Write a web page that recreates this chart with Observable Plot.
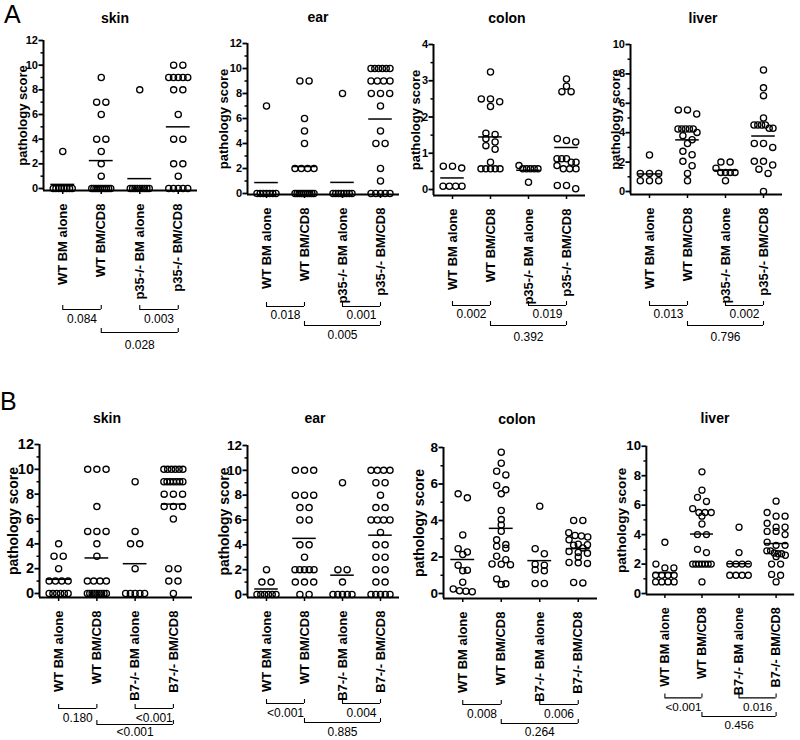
<!DOCTYPE html>
<html><head><meta charset="utf-8">
<script src="https://cdn.jsdelivr.net/npm/d3@7"></script>
<script src="https://cdn.jsdelivr.net/npm/@observablehq/plot@0.6"></script>
<style>
html,body{margin:0;padding:0;background:#fff;overflow:hidden}
#fig{position:relative;width:800px;height:740px;overflow:hidden;font-family:"Liberation Sans",Arial,sans-serif;color:#000}
.panel{position:absolute}
.ttl{position:absolute;font-weight:bold;font-size:14px;transform:translate(-50%,-50%);white-space:nowrap}
.big{position:absolute;font-size:25px;line-height:1}
</style></head><body><div id="fig"></div>
<script>
// ---------- categories ----------
const groupsA = ["WT BM alone", "WT BM/CD8", "p35-/- BM alone", "p35-/- BM/CD8"];
const groupsB = ["WT BM alone", "WT BM/CD8", "B7-/- BM alone", "B7-/- BM/CD8"];
const bracketPairs = [[0, 1], [2, 3], [1, 3]];
const bracketLevels = [0, 0, 1];

// ---------- values (one list per group) ----------
const skinA = [
  [3, 0, 0, 0, 0, 0, 0, 0, 0],
  [9, 7, 7, 6, 4, 4, 3, 2, 1, 0, 0, 0, 0, 0, 0, 0, 0, 0, 0],
  [8, 0, 0, 0, 0, 0, 0, 0, 0, 0],
  [10, 10, 9, 9, 9, 9, 9, 8, 8, 6, 4, 4, 2, 2, 1, 0, 0, 0, 0, 0]
];
const earA = [
  [7, 0, 0, 0, 0, 0, 0, 0],
  [9, 9, 6, 5, 4, 2, 2, 2, 2, 0, 0, 0, 0, 0, 0, 0, 0, 0, 0],
  [8, 0, 0, 0, 0, 0, 0, 0, 0],
  [10, 10, 10, 10, 10, 10, 9, 9, 9, 9, 8, 8, 8, 7, 5, 4, 4, 2, 1, 0, 0, 0, 0, 0]
];
const colonA = [
  [0.64, 0.59, 0.64, 0.09, 0.09, 0.09, 0.09],
  [3.24, 2.5, 2.5, 2.42, 2.29, 1.55, 1.52, 1.4, 1.31, 1.21, 1.11, 0.75, 0.57, 0.57, 0.57, 0.57, 0.57],
  [0.66, 0.57, 0.57, 0.57, 0.57, 0.57, 0.2],
  [3.05, 2.85, 2.7, 2.7, 1.4, 1.35, 1.31, 0.85, 0.85, 0.85, 0.75, 0.75, 0.66, 0.57, 0.57, 0.57, 0.11, 0.11, 0.02]
];
const liverA = [
  [2.48, 1.23, 1.23, 1.23, 0.73, 0.73, 0.73],
  [5.55, 5.55, 5.27, 4.25, 4.25, 4.25, 4.25, 4.25, 4.02, 3.8, 3.52, 3.27, 2.73, 2.5, 2.05, 1.75, 1.23, 0.73],
  [2.0, 2.0, 1.59, 1.3, 1.3, 1.3, 1.3, 0.73],
  [8.27, 7.05, 6.52, 5.0, 4.52, 4.52, 4.52, 4.52, 4.3, 4.3, 3.27, 3.27, 3.0, 2.05, 2.05, 1.8, 1.52, 1.23, 0]
];
const skinB = [
  [4, 3, 3, 2, 1, 1, 1, 1, 0, 0, 0, 0, 0, 0],
  [10, 10, 10, 7, 5, 5, 5, 4, 3, 1, 1, 1, 1, 0, 0, 0, 0, 0, 0, 0, 0, 0],
  [9, 5, 4, 4, 2, 0, 0, 0, 0, 0],
  [10, 10, 10, 10, 10, 10, 9, 9, 9, 9, 9, 9, 9, 8, 8, 8, 7, 7, 7, 6, 2, 2, 1, 1, 0]
];
const earB = [
  [2, 1, 1, 0, 0, 0, 0, 0, 0],
  [10, 10, 10, 8, 8, 8, 7, 7, 6, 6, 4, 4, 3, 2, 2, 2, 2, 2, 1, 1, 1, 0, 0],
  [9, 2, 2, 1, 0, 0, 0, 0, 0],
  [10, 10, 10, 10, 9, 9, 8, 7, 7, 6, 6, 6, 6, 5, 4, 4, 3, 3, 2, 2, 1, 1, 0, 0, 0, 0, 0]
];
const colonB = [
  [5.46, 5.24, 3.21, 2.45, 2.27, 2.14, 1.55, 1.28, 1.25, 0.62, 0.25, 0.15, 0.12, 0.1],
  [7.74, 7.14, 6.7, 6.5, 5.92, 5.68, 5.46, 4.55, 4.05, 3.76, 3.41, 2.94, 2.68, 2.59, 2.48, 2.04, 1.85, 1.62, 1.6, 1.58, 0.8, 0.53, 0.5],
  [4.78, 2.45, 2.18, 1.6, 1.55, 1.3, 1.25, 0.55, 0.55],
  [4.0, 4.0, 3.33, 3.18, 3.15, 3.1, 2.94, 2.7, 2.67, 2.65, 2.5, 2.3, 2.25, 2.2, 2.0, 1.7, 1.68, 1.65, 0.6, 0.58]
];
const liverB = [
  [3.48, 2.0, 1.74, 1.74, 1.24, 1.24, 1.24, 1.24, 0.79, 0.79, 0.79, 0.79],
  [8.26, 7.02, 6.53, 6.25, 5.76, 5.5, 5.5, 5.5, 5.25, 4.72, 4.0, 4.0, 3.0, 2.78, 2.0, 2.0, 2.0, 2.0, 2.0, 2.0, 2.0, 0.79],
  [4.5, 2.78, 2.0, 2.0, 2.0, 2.0, 1.24, 1.24, 1.24, 1.24],
  [6.27, 5.5, 5.25, 5.25, 4.77, 4.5, 4.5, 4.22, 4.22, 4.0, 3.49, 3.27, 3.27, 2.9, 2.9, 2.75, 2.7, 2.7, 2.6, 2.5, 2.0, 2.0, 1.3, 1.24, 0.79]
];

// ---------- p-values ----------
const pSkinA = ["0.084", "0.003", "0.028"];
const pEarA = ["0.018", "0.001", "0.005"];
const pColonA = ["0.002", "0.019", "0.392"];
const pLiverA = ["0.013", "0.002", "0.796"];
const pSkinB = ["0.180", "<0.001", "<0.001"];
const pEarB = ["<0.001", "0.004", "0.885"];
const pColonB = ["0.008", "0.006", "0.264"];
const pLiverB = ["<0.001", "0.016", "0.456"];

// ---------- y tick labels ----------
const ticks12 = [0, 2, 4, 6, 8, 10, 12];
const ticks10 = [0, 2, 4, 6, 8, 10];
const ticks8 = [0, 2, 4, 6, 8];
const ticks4 = [0, 1, 2, 3, 4];

const FONT = '"Liberation Sans", Arial, Helvetica, sans-serif';

// GraphPad-like horizontal spreading of points sharing (nearly) the same value
function spread(options, {gap = 9.2, span = 19, tol = 5} = {}) {
  return Plot.initializer(options, function (data, facets, channels, scales) {
    const X = channels.x.value, Y = channels.y.value;
    const PX = Array.from(X, (v) => scales.x(v));
    const PY = Array.from(Y, (v) => scales.y(v));
    const OX = new Float64Array(PX.length);
    for (const I of facets) {
      for (const idx of d3.group(I, (i) => X[i]).values()) {
        const sorted = Array.from(idx).sort((a, b) => PY[a] - PY[b]);
        const rows = [];
        let cur = [];
        for (const i of sorted) {
          if (cur.length && PY[i] - PY[cur[0]] > tol) { rows.push(cur); cur = []; }
          cur.push(i);
        }
        if (cur.length) rows.push(cur);
        for (const row of rows) {
          const n = row.length;
          const s = n > 1 ? Math.min(gap, span / (n - 1)) : 0;
          row.forEach((i, k) => { OX[i] = PX[i] + (k - (n - 1) / 2) * s; });
        }
      }
    }
    return {data, facets, channels: {x: {value: OX}}};
  });
}

function drawPanel(cfg) {
  const {groups, values, pvals, yMax, ticks} = cfg;
  const pxPerUnit = (cfg.zeroPx - cfg.topPx) / yMax;
  const yMin = -(cfg.axisPx - cfg.zeroPx) / pxPerUnit;
  const minor = d3.range(ticks.length - 1).map((k) => (ticks[k] + ticks[k + 1]) / 2);
  const data = values.flatMap((vs, i) => vs.map((v) => ({i, v})));
  const means = values.map((vs, i) => ({i, m: d3.mean(vs)}));
  const br = bracketPairs.map(([a, b], k) => ({from: a, to: b, level: bracketLevels[k], p: pvals[k]}));
  const ends = br.flatMap((b) => [{x: b.from, level: b.level}, {x: b.to, level: b.level}]);
  const ML = 46, MR = 6, MT = 10, MB = cfg.mb;
  const innerH = cfg.axisPx - cfg.topPx;
  const innerW = cfg.axisEnd - cfg.axisX;
  const bracketMarks = [0, 1].flatMap((L) => [
    Plot.ruleY(br.filter((b) => b.level === L), {x1: "from", x2: "to", y: yMin, dy: cfg.bLine[L], stroke: "black", strokeWidth: 1.1}),
    Plot.ruleX(ends.filter((e) => e.level === L), {x: "x", y1: yMin, y2: yMin, dy: cfg.bLine[L], insetBottom: 4, stroke: "black", strokeWidth: 1.1}),
    Plot.text(br.filter((b) => b.level === L), {x: (d) => (d.from + d.to) / 2, y: yMin, dy: cfg.bText[L], text: "p", fontSize: 12, fill: "black"})
  ]);
  const plot = Plot.plot({
    width: ML + innerW + MR,
    height: MT + innerH + MB,
    marginLeft: ML, marginRight: MR, marginTop: MT, marginBottom: MB,
    style: {background: "transparent", overflow: "visible", fontFamily: FONT, color: "black"},
    x: {domain: [-0.5, groups.length - 0.5]},
    y: {domain: [yMin, yMax]},
    marks: [
      Plot.axisY({ticks: minor, tickSize: 2.5, tickFormat: () => "", strokeWidth: 1.5, label: null}),
      Plot.axisY({ticks, tickSize: 4.5, tickPadding: 1, tickFormat: (d) => String(d), fontSize: cfg.tickFont, fontWeight: "bold", strokeWidth: 1.8, label: null}),
      Plot.axisX({ticks: d3.range(groups.length), tickFormat: (i) => groups[i], tickRotate: -90, tickSize: 4, tickPadding: 9,
        fontSize: 13, fontWeight: "bold", strokeWidth: 1.5, label: null}),
      Plot.text(["pathology score"], {frameAnchor: "left", textAnchor: "middle", lineAnchor: "middle", rotate: -90, dx: cfg.labelDx,
        fontSize: cfg.labelFont, fontWeight: "bold", fill: "black"}),
      Plot.ruleY([yMin], {stroke: "black", strokeWidth: 2}),
      Plot.ruleX([-0.5], {y1: yMin, y2: yMax, stroke: "black", strokeWidth: 2}),
      Plot.ruleY(means, {y: "m", x1: (d) => d.i - 0.31, x2: (d) => d.i + 0.31, stroke: "black", strokeWidth: 1.5}),
      Plot.dot(data, spread({x: "i", y: "v", r: 3.1, stroke: "black", strokeWidth: 1.3, fill: "none"})),
      ...bracketMarks
    ]
  });
  const div = document.createElement("div");
  div.className = "panel";
  div.style.left = (cfg.axisX - ML) + "px";
  div.style.top = (cfg.topPx - MT) + "px";
  div.appendChild(plot);
  fig.appendChild(div);
  const t = document.createElement("div");
  t.className = "ttl";
  t.textContent = cfg.title;
  t.style.left = cfg.titleX + "px";
  t.style.top = cfg.titleY + "px";
  fig.appendChild(t);
}

const fig = document.getElementById("fig");
const panels = [
  {title: "skin", groups: groupsA, values: skinA, pvals: pSkinA, yMax: 12, ticks: ticks12,
   axisX: 43, axisEnd: 197, topPx: 40, zeroPx: 188, axisPx: 190, mb: 172, bLine: [119, 142], bText: [129, 155],
   titleX: 115, titleY: 18, labelDx: -21, labelFont: 13, tickFont: 11},
  {title: "ear", groups: groupsA, values: earA, pvals: pEarA, yMax: 12, ticks: ticks12,
   axisX: 247, axisEnd: 399, topPx: 43, zeroPx: 193, axisPx: 194, mb: 160, bLine: [112, 131], bText: [121, 141],
   titleX: 318, titleY: 17, labelDx: -24, labelFont: 13, tickFont: 11},
  {title: "colon", groups: groupsA, values: colonA, pvals: pColonA, yMax: 4, ticks: ticks4,
   axisX: 433, axisEnd: 585, topPx: 44, zeroPx: 189, axisPx: 195, mb: 160, bLine: [110, 130], bText: [119, 142],
   titleX: 507, titleY: 18, labelDx: -18, labelFont: 13, tickFont: 11},
  {title: "liver", groups: groupsA, values: liverA, pvals: pLiverA, yMax: 10, ticks: ticks10,
   axisX: 630, axisEnd: 782, topPx: 44, zeroPx: 191, axisPx: 194, mb: 160, bLine: [111, 131], bText: [120, 143],
   titleX: 703, titleY: 18, labelDx: -15, labelFont: 13, tickFont: 11},
  {title: "skin", groups: groupsB, values: skinB, pvals: pSkinB, yMax: 12, ticks: ticks12,
   axisX: 39, axisEnd: 192, topPx: 444, zeroPx: 593, axisPx: 597, mb: 142, bLine: [111, 127], bText: [121, 135],
   titleX: 107, titleY: 418, labelDx: -26, labelFont: 14, tickFont: 14.5},
  {title: "ear", groups: groupsB, values: earB, pvals: pEarB, yMax: 12, ticks: ticks12,
   axisX: 247, axisEnd: 399, topPx: 445, zeroPx: 594, axisPx: 597, mb: 142, bLine: [106, 125], bText: [116, 135],
   titleX: 315, titleY: 418, labelDx: -23, labelFont: 14, tickFont: 13.5},
  {title: "colon", groups: groupsB, values: colonB, pvals: pColonB, yMax: 8, ticks: ticks8,
   axisX: 443, axisEnd: 597, topPx: 447, zeroPx: 593, axisPx: 598, mb: 141, bLine: [106, 125], bText: [116, 134],
   titleX: 517, titleY: 419, labelDx: -24, labelFont: 14, tickFont: 13.5},
  {title: "liver", groups: groupsB, values: liverB, pvals: pLiverB, yMax: 10, ticks: ticks10,
   axisX: 647, axisEnd: 799, topPx: 446, zeroPx: 597, axisPx: 598, mb: 141, bLine: [106, 125], bText: [116, 134],
   titleX: 715, titleY: 418, labelDx: -25, labelFont: 14, tickFont: 13.5}
];
panels.forEach(drawPanel);

for (const [txt, x, y] of [["A", 4, 2], ["B", 0, 389]]) {
  const d = document.createElement("div");
  d.className = "big";
  d.textContent = txt;
  d.style.left = x + "px";
  d.style.top = y + "px";
  fig.appendChild(d);
}
</script></body></html>
